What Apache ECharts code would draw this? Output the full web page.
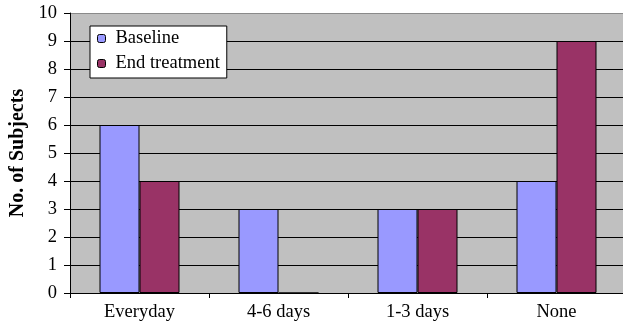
<!DOCTYPE html>
<html><head><meta charset="utf-8">
<script src="https://cdn.jsdelivr.net/npm/echarts@6/dist/echarts.min.js"></script>
<style>html,body{margin:0;padding:0;background:#fff}#c{width:623px;height:325px}</style>
</head><body><div id="c"></div>
<script>
const categories = ["Everyday", "4-6 days", "1-3 days", "None"];
const baseline = [6, 3, 3, 4];
const endTreatment = [4, 0, 3, 9];
const yTicks = [0, 10, 1];
const font = "'Liberation Serif','Times New Roman',serif";
const gridColors = [];
for (let v = yTicks[0]; v <= yTicks[1]; v += yTicks[2]) gridColors.push(v === yTicks[1] ? '#8a8a8a' : '#000');
const chart = echarts.init(document.getElementById('c'));
chart.setOption({
  animation: false,
  textStyle: {fontFamily: font},
  grid: {left: 70, top: 13, width: 556, height: 280, backgroundColor: '#c0c0c0', show: true, borderWidth: 0,
         containLabel: false, outerBoundsMode: 'none'},
  legend: {
    left: 90, top: 26, orient: 'vertical', backgroundColor: '#fff', borderColor: '#000', borderWidth: 1,
    padding: [3, 7, 5, 7], itemGap: 6, itemWidth: 8, itemHeight: 8,
    textStyle: {fontFamily: font, fontSize: 18.5, lineHeight: 19, color: '#000', padding: [0, 0, 0, 5]},
    data: [{name: 'Baseline', itemStyle: {borderColor: '#000', borderWidth: 1}}, {name: 'End treatment', itemStyle: {borderColor: '#000', borderWidth: 1}}]
  },
  xAxis: {
    type: 'category', data: categories,
    axisLine: {lineStyle: {color: '#000', width: 1}},
    axisTick: {show: true, length: 5, lineStyle: {color: '#000'}},
    axisLabel: {fontFamily: font, fontSize: 18.5, color: '#000', margin: 10}
  },
  yAxis: {
    type: 'value', min: yTicks[0], max: yTicks[1], interval: yTicks[2],
    name: 'No. of Subjects', nameLocation: 'middle', nameGap: 42,
    nameTextStyle: {fontFamily: font, fontSize: 20, fontWeight: 'bold', color: '#000'},
    axisLine: {show: true, lineStyle: {color: '#000'}},
    axisTick: {show: true, length: 6, lineStyle: {color: '#000'}},
    axisLabel: {fontFamily: font, fontSize: 18.5, color: '#000', margin: 13},
    splitLine: {lineStyle: {color: gridColors, width: 1}}
  },
  series: [
    {name: 'Baseline', type: 'bar', data: baseline, barWidth: 40, barGap: '0%',
     itemStyle: {color: '#9999ff', borderColor: '#000', borderWidth: 1}},
    {name: 'End treatment', type: 'bar', data: endTreatment, barWidth: 40,
     itemStyle: {color: '#993366', borderColor: '#000', borderWidth: 1}}
  ]
});
</script></body></html>
